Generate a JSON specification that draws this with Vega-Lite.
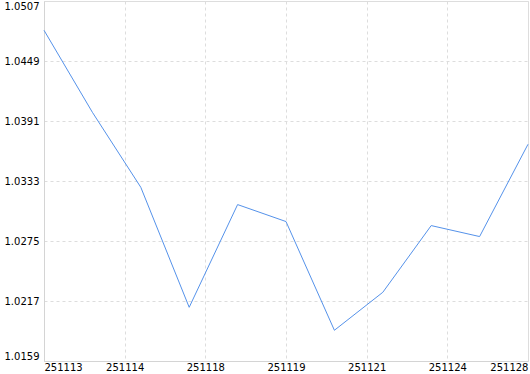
{
  "$schema": "https://vega.github.io/schema/vega-lite/v6.json",
  "width": 484,
  "height": 360,
  "autosize": {"type": "none"},
  "padding": {"left": 44, "top": 1, "right": 2, "bottom": 13},
  "background": "white",
  "config": {
    "view": {"stroke": "#dddddd", "strokeWidth": 1},
    "axis": {
      "labelFont": "DejaVu Sans",
      "labelFontSize": 10,
      "labelColor": "#000000",
      "domainColor": "#d4d4d4",
      "ticks": false,
      "gridColor": "#dddddd",
      "gridDash": [3, 3],
      "gridWidth": 1,
      "title": null
    }
  },
  "data": {
    "values": [
      {"i": 0, "value": 1.04787},
      {"i": 1, "value": 1.03994},
      {"i": 2, "value": 1.03269},
      {"i": 3, "value": 1.02109},
      {"i": 4, "value": 1.03102},
      {"i": 5, "value": 1.02938},
      {"i": 6, "value": 1.01887},
      {"i": 7, "value": 1.02254},
      {"i": 8, "value": 1.02899},
      {"i": 9, "value": 1.02793},
      {"i": 10, "value": 1.03685}
    ]
  },
  "mark": {"type": "line", "color": "#5592ea", "strokeWidth": 1},
  "encoding": {
    "x": {
      "field": "i",
      "type": "quantitative",
      "scale": {"domain": [0, 10], "nice": false, "zero": false},
      "axis": {
        "values": [0, 1.6666667, 3.3333333, 5, 6.6666667, 8.3333333, 10],
        "labelExpr": "['251113','251114','251118','251119','251121','251124','251128'][round(datum.value*0.6)]",
        "labelFlush": true,
        "labelPadding": 1,
        "grid": true
      }
    },
    "y": {
      "field": "value",
      "type": "quantitative",
      "scale": {"domain": [1.0159, 1.0507], "nice": false, "zero": false},
      "axis": {
        "values": [1.0159, 1.0217, 1.0275, 1.0333, 1.0391, 1.0449, 1.0507],
        "format": ".4f",
        "labelFlush": true,
        "labelPadding": 5,
        "grid": true
      }
    }
  }
}
